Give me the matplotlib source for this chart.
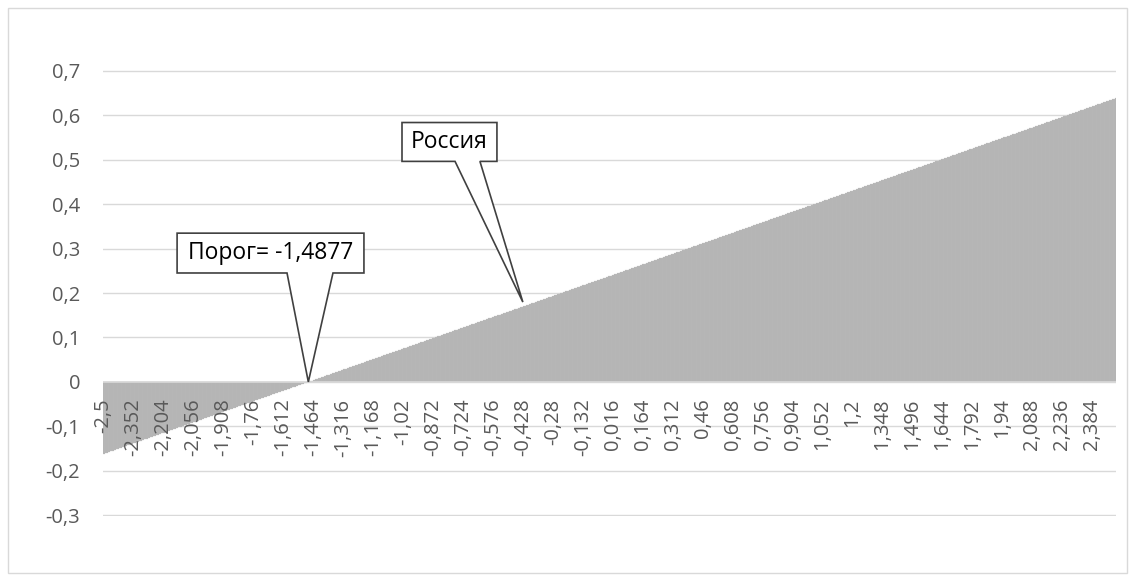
import numpy as np
import matplotlib
matplotlib.use("Agg")
import matplotlib.pyplot as plt
from matplotlib.patches import Polygon, Rectangle

# Categories: x from -2.5 to 2.5 in steps of 0.004
step = 0.004
categories = np.round(np.arange(-2.5, 2.5 + step / 2, step), 3)

# Linear response crossing zero at the threshold shown in the callout
threshold = -1.4877
slope = 0.16
values = slope * (categories - threshold)

# Every 37th category is labelled
x_tick_labels = ["-2,5", "-2,352", "-2,204", "-2,056", "-1,908", "-1,76", "-1,612",
                 "-1,464", "-1,316", "-1,168", "-1,02", "-0,872", "-0,724", "-0,576",
                 "-0,428", "-0,28", "-0,132", "0,016", "0,164", "0,312", "0,46",
                 "0,608", "0,756", "0,904", "1,052", "1,2", "1,348", "1,496",
                 "1,644", "1,792", "1,94", "2,088", "2,236", "2,384"]
y_ticks = [-0.3, -0.2, -0.1, 0, 0.1, 0.2, 0.3, 0.4, 0.5, 0.6, 0.7]
y_tick_labels = ["-0,3", "-0,2", "-0,1", "0", "0,1", "0,2", "0,3", "0,4", "0,5", "0,6", "0,7"]

russia_x = -0.428

W, H = 1136, 581
fig = plt.figure(figsize=(W / 100, H / 100), dpi=100)
fig.patch.set_facecolor("white")

# Chart-area border
fig.add_artist(Rectangle((8 / W, 8 / H), (1127 - 8) / W, (573 - 8) / H,
                         transform=fig.transFigure, fill=False,
                         edgecolor="#d9d9d9", linewidth=1))

ax = fig.add_axes([103 / W, (H - 516) / H, (1116 - 103) / W, (516 - 70) / H])
ax.set_xlim(categories[0] - step / 2, categories[-1] + step / 2)
ax.set_ylim(-0.3015, 0.7015)

for s in ax.spines.values():
    s.set_visible(False)

ax.set_yticks(y_ticks)
ax.set_yticklabels(y_tick_labels, fontsize=14.5, color="#595959", family="Open Sans")
ax.tick_params(axis="y", length=0, pad=16.5)
ax.set_xticks([])
ax.yaxis.grid(True, color="#d9d9d9", linewidth=1)
ax.set_axisbelow(True)

ax.bar(categories, values, width=step, color="#b2b2b2", edgecolor="#c0c0c0",
       linewidth=0.15, zorder=2)

# Horizontal axis line
ax.axhline(0, color="#d9d9d9", linewidth=1.2, zorder=3)

# Category labels below the zero line
label_pos = categories[::37]
for xv, lab in zip(label_pos, x_tick_labels):
    ax.annotate(lab, xy=(xv, 0), xytext=(0, -12), textcoords="offset points",
                rotation=90, ha="center", va="top", fontsize=14.5,
                color="#595959", family="Open Sans", zorder=4)


def callout(text, box, base, tip):
    x0, x1, y0, y1 = box
    b0, b1 = base
    pts = [(x0, y1), (x1, y1), (x1, y0), (b1, y0), tip, (b0, y0), (x0, y0)]
    ax.add_patch(Polygon(pts, closed=True, facecolor="white", edgecolor="#404040",
                         linewidth=1.2, zorder=5, clip_on=False))
    ax.text((x0 + x1) / 2, (y0 + y1) / 2, text, ha="center", va="center",
            fontsize=16.5, color="black", family="Open Sans", zorder=6)


callout("Порог= -1,4877", (-2.136, -1.213, 0.245, 0.3346), (-1.593, -1.366),
        (threshold, 0))
callout("Россия", (-1.025, -0.556, 0.496, 0.5834), (-0.763, -0.640),
        (russia_x, slope * (russia_x - threshold) + 0.01))

fig.savefig("out.png", dpi=100, facecolor="white")
